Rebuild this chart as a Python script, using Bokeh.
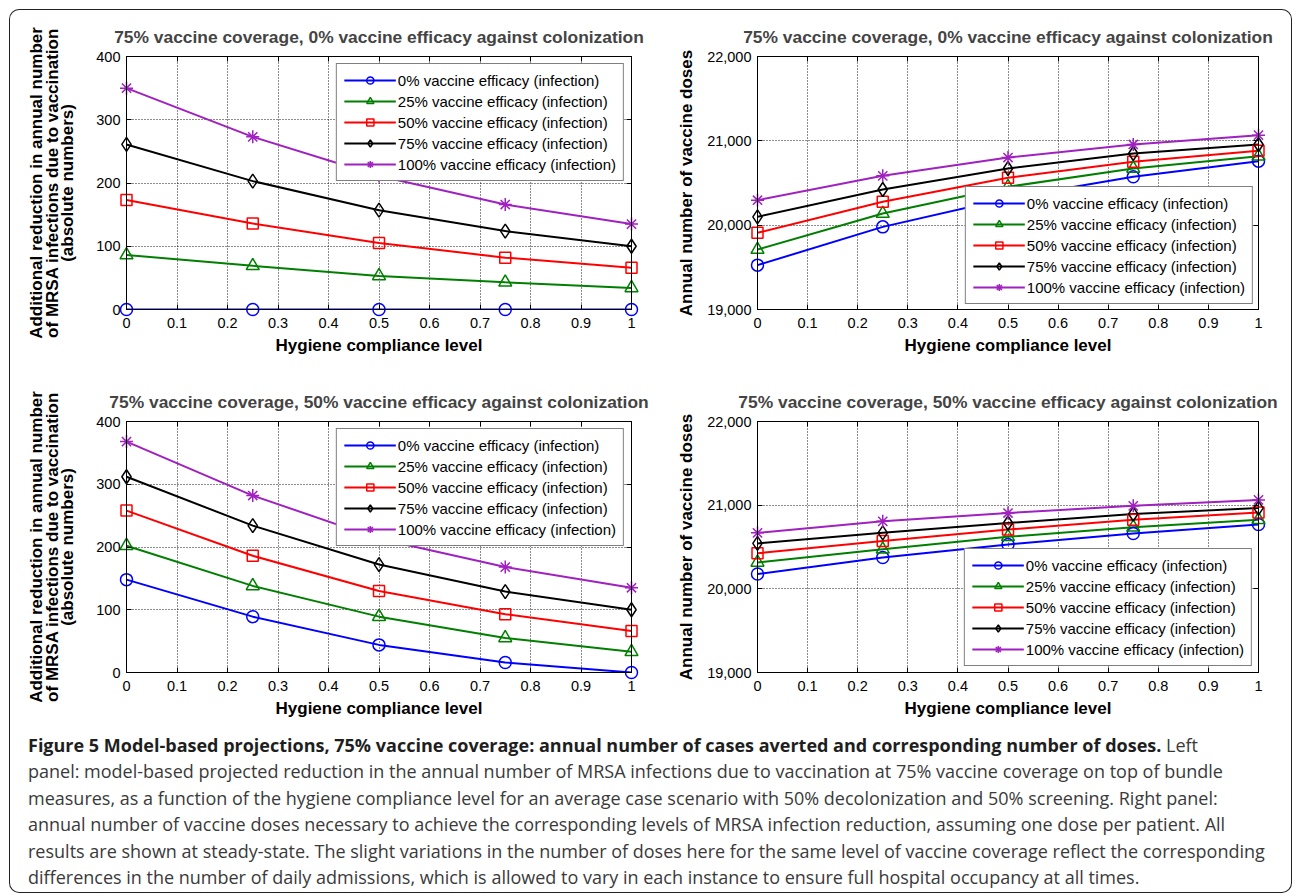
from bokeh.plotting import figure
from bokeh.layouts import column, row
from bokeh.models import Div, LinearAxis, FixedTicker, Range1d, CustomLabelingPolicy
from bokeh.embed import file_html
from bokeh.resources import INLINE

# ---------------- data ----------------
hygiene = [0, 0.25, 0.5, 0.75, 1.0]
series_labels = [
    "0% vaccine efficacy (infection)",
    "25% vaccine efficacy (infection)",
    "50% vaccine efficacy (infection)",
    "75% vaccine efficacy (infection)",
    "100% vaccine efficacy (infection)",
]

# top-left: reduction in infections, 0% efficacy against colonization
red_col0_eff0 = [0, 0, 0, 0, 0]
red_col0_eff25 = [86, 69, 53, 43, 34]
red_col0_eff50 = [173, 136, 105, 82, 66]
red_col0_eff75 = [261, 203, 157, 124, 100]
red_col0_eff100 = [350, 273, 211, 166, 135]

# bottom-left: reduction in infections, 50% efficacy against colonization
red_col50_eff0 = [148, 89, 44, 16, 0]
red_col50_eff25 = [202, 138, 89, 55, 33]
red_col50_eff50 = [258, 186, 130, 93, 66]
red_col50_eff75 = [312, 234, 172, 129, 100]
red_col50_eff100 = [368, 282, 213, 168, 135]

# top-right: annual doses, 0% efficacy against colonization
dose_col0_eff0 = [19526, 19980, 20320, 20573, 20759]
dose_col0_eff25 = [19711, 20138, 20455, 20672, 20818]
dose_col0_eff50 = [19909, 20277, 20561, 20751, 20881]
dose_col0_eff75 = [20099, 20423, 20672, 20850, 20957]
dose_col0_eff100 = [20296, 20585, 20802, 20957, 21067]

# bottom-right: annual doses, 50% efficacy against colonization
dose_col50_eff0 = [20177, 20374, 20531, 20661, 20768]
dose_col50_eff25 = [20315, 20472, 20622, 20736, 20827]
dose_col50_eff50 = [20425, 20571, 20709, 20827, 20913]
dose_col50_eff75 = [20543, 20669, 20787, 20894, 20965]
dose_col50_eff100 = [20669, 20807, 20906, 20992, 21063]

x_ticks = [0, 0.1, 0.2, 0.3, 0.4, 0.5, 0.6, 0.7, 0.8, 0.9, 1]
x_tick_labels = ["0", "0.1", "0.2", "0.3", "0.4", "0.5", "0.6", "0.7", "0.8", "0.9", "1"]
red_ticks = [0, 100, 200, 300, 400]
red_tick_labels = ["0", "100", "200", "300", "400"]
dose_ticks = [19000, 20000, 21000, 22000]
dose_tick_labels = ["19,000", "20,000", "21,000", "22,000"]

title_col0 = "75% vaccine coverage, 0% vaccine efficacy against colonization"
title_col50 = "75% vaccine coverage, 50% vaccine efficacy against colonization"
xlabel = "Hygiene compliance level"
ylabel_red = "Additional reduction in annual number\nof MRSA infections due to vaccination\n(absolute numbers)"
ylabel_dose = "Annual number of vaccine doses"

caption_bold = ("Figure 5 Model-based projections, 75% vaccine coverage: annual number of cases "
                "averted and corresponding number of doses.")
caption_lines = [
    " Left",
    "panel: model-based projected reduction in the annual number of MRSA infections due to vaccination at 75% vaccine coverage on top of bundle",
    "measures, as a function of the hygiene compliance level for an average case scenario with 50% decolonization and 50% screening. Right panel:",
    "annual number of vaccine doses necessary to achieve the corresponding levels of MRSA infection reduction, assuming one dose per patient. All",
    "results are shown at steady-state. The slight variations in the number of doses here for the same level of vaccine coverage reflect the corresponding",
    "differences in the number of daily admissions, which is allowed to vary in each instance to ensure full hospital occupancy at all times.",
]

# ---------------- styles ----------------
COLORS = ["#0000FF", "#007F00", "#FF0000", "#000000", "#A020C0"]
MARKERS = ["circle", "triangle", "square", "diamond", "asterisk"]
MSIZES = [12, 13, 11, 14, 13]
FONT = "Liberation Sans"

NO_LABELS = CustomLabelingPolicy(code="return new indices.constructor(indices.size, 0)")


def make_panel(title, ylabel, yrange, yticks, ytick_labels, series, legend_loc, legend_margin,
               width, height, mbl, mbr, mbt, mbb, ylabel_standoff):
    p = figure(width=width, height=height, x_range=Range1d(0, 1), y_range=Range1d(*yrange),
               output_backend="svg", toolbar_location=None,
               min_border_left=mbl, min_border_right=mbr, min_border_top=mbt, min_border_bottom=mbb)
    p.outline_line_color = "black"
    p.outline_line_width = 1
    p.background_fill_color = None
    p.border_fill_color = None

    p.title.text = title
    p.title.text_font = FONT
    p.title.text_font_size = "17.4px"
    p.title.text_font_style = "bold"
    p.title.align = "center"
    p.title.standoff = 12

    for ax, ticks, labels in ((p.xaxis[0], x_ticks, x_tick_labels), (p.yaxis[0], yticks, ytick_labels)):
        ax.ticker = FixedTicker(ticks=ticks)
        ax.major_label_overrides = {t: l for t, l in zip(ticks, labels)}
        ax.major_label_text_font = FONT
        ax.major_label_text_font_size = "14.5px"
        ax.major_label_text_color = "black"
        ax.major_tick_in = 5
        ax.major_tick_out = 0
        ax.minor_tick_line_color = None
        ax.axis_line_color = "black"
        ax.major_tick_line_color = "black"
        ax.axis_label_text_font = FONT
        ax.axis_label_text_font_size = "17px"
        ax.axis_label_text_font_style = "bold"
        ax.axis_label_text_color = "black"
    p.xaxis.axis_label = xlabel
    p.xaxis.major_label_standoff = 8
    p.xaxis.axis_label_standoff = 5
    p.yaxis.axis_label = ylabel
    p.yaxis.major_label_standoff = 6
    p.yaxis.axis_label_standoff = ylabel_standoff
    p.yaxis.axis_label_text_line_height = 0.82

    top = LinearAxis(ticker=FixedTicker(ticks=x_ticks), major_label_text_font_size="1px",
                     major_label_policy=NO_LABELS,
                     major_label_standoff=0, major_tick_in=5, major_tick_out=0,
                     minor_tick_line_color=None, axis_line_color="black")
    right = LinearAxis(ticker=FixedTicker(ticks=yticks), major_label_text_font_size="1px",
                       major_label_policy=NO_LABELS,
                       major_label_standoff=0, major_tick_in=5, major_tick_out=0,
                       minor_tick_line_color=None, axis_line_color="black")
    p.add_layout(top, "above")
    p.add_layout(right, "right")

    for g in (p.xgrid[0], p.ygrid[0]):
        g.grid_line_color = "black"
        g.grid_line_dash = "1 2"
        g.grid_line_alpha = 0.9
    p.xgrid.ticker = FixedTicker(ticks=x_ticks[1:-1])
    p.ygrid.ticker = FixedTicker(ticks=yticks[1:-1])

    for ys, lbl, c, m, s in zip(series, series_labels, COLORS, MARKERS, MSIZES):
        p.line(hygiene, ys, line_color=c, line_width=2, legend_label=lbl)
        p.scatter(hygiene, ys, marker=m, size=s, line_color=c, line_width=1.5,
                  fill_color=None, legend_label=lbl, level="guide")

    lg = p.legend[0]
    lg.location = legend_loc
    lg.margin = legend_margin
    lg.border_line_color = "black"
    lg.border_line_width = 1
    lg.background_fill_color = "white"
    lg.background_fill_alpha = 1
    lg.label_text_font = FONT
    lg.label_text_font_size = "15px"
    lg.label_text_color = "black"
    lg.glyph_width = 52
    lg.glyph_height = 18
    lg.label_height = 18
    lg.spacing = 3
    lg.padding = 7
    lg.label_standoff = 2
    return p


LW, RW = 656, 627
H1, H2 = 357, 354

p_tl = make_panel(title_col0, ylabel_red, (0, 400), red_ticks, red_tick_labels,
                  [red_col0_eff0, red_col0_eff25, red_col0_eff50, red_col0_eff75, red_col0_eff100],
                  "top_right", 7, LW, H1, 117, 34, 47, 57, 16)
p_tr = make_panel(title_col0, ylabel_dose, (19000, 22000), dose_ticks, dose_tick_labels,
                  [dose_col0_eff0, dose_col0_eff25, dose_col0_eff50, dose_col0_eff75, dose_col0_eff100],
                  "bottom_right", 5, RW, H1, 92, 34, 47, 57, 8)
p_bl = make_panel(title_col50, ylabel_red, (0, 400), red_ticks, red_tick_labels,
                  [red_col50_eff0, red_col50_eff25, red_col50_eff50, red_col50_eff75, red_col50_eff100],
                  "top_right", 7, LW, H2, 117, 34, 55, 46, 16)
p_br = make_panel(title_col50, ylabel_dose, (19000, 22000), dose_ticks, dose_tick_labels,
                  [dose_col50_eff0, dose_col50_eff25, dose_col50_eff50, dose_col50_eff75, dose_col50_eff100],
                  "bottom_right", 6, RW, H2, 92, 34, 55, 46, 8)

CAP_H = 173
cap_html = ('<div style="font-family:\'Open Sans\',sans-serif;font-size:18px;line-height:26.4px;'
            'color:#3a3a3a;padding:7px 0 0 14px;white-space:nowrap;">'
            '<b style="color:#1e1e1e">' + caption_bold + '</b>' + caption_lines[0] + '<br>'
            + '<br>'.join(caption_lines[1:]) + '</div>')
caption = Div(text=cap_html, width=LW + RW, height=CAP_H)

layout = column(row(p_tl, p_tr), row(p_bl, p_br), caption,
                width=LW + RW, height=H1 + H2 + CAP_H,
                styles={"background": "white", "box-shadow": "inset 0 0 0 1px #222",
                        "border-radius": "10px", "margin-left": "9px", "margin-top": "9px"})

open("out.html", "w").write(file_html(layout, INLINE))
